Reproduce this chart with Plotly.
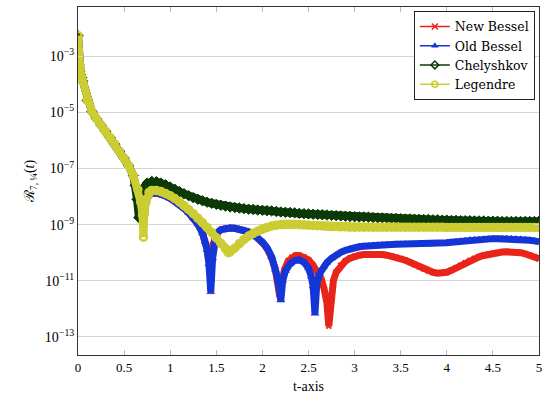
import plotly.graph_objects as go

# ---- data (values given as log10 of R) ----
t_head = [0, 0.01, 0.02, 0.03, 0.04, 0.05, 0.1, 0.15, 0.2, 0.25, 0.3, 0.35, 0.4, 0.45, 0.5, 0.55, 0.6]
lg_head = [-2.26, -3.30, -3.53, -3.66, -3.76, -3.87, -4.57, -4.96, -5.22, -5.45, -5.67, -5.9, -6.13, -6.38, -6.63, -6.9, -7.25]

t_tail = [3.05, 3.1, 3.15, 3.2, 3.25, 3.3, 3.35, 3.4, 3.45, 3.5,
          3.55, 3.6, 3.65, 3.7, 3.75, 3.8, 3.85, 3.9, 3.95, 4.0,
          4.05, 4.1, 4.15, 4.2, 4.25, 4.3, 4.35, 4.4, 4.45, 4.5,
          4.55, 4.6, 4.65, 4.7, 4.75, 4.8, 4.85, 4.9, 4.95, 5.0]

# New Bessel
t_new_mid = [0.65, 0.68, 0.7, 0.71, 0.72, 0.74, 0.77,
             0.8, 0.85, 0.9, 0.95, 1.0, 1.05, 1.1, 1.15, 1.2, 1.25, 1.3, 1.35,
             1.38, 1.4, 1.42, 1.44, 1.46, 1.48,
             1.5, 1.55, 1.6, 1.65, 1.7, 1.75, 1.8, 1.85, 1.9, 1.95, 2.0, 2.05, 2.1,
             2.14, 2.17, 2.19, 2.21, 2.24, 2.28, 2.32, 2.36, 2.4, 2.45, 2.5, 2.55, 2.6,
             2.64, 2.67, 2.7, 2.72, 2.74, 2.77, 2.8, 2.85, 2.9, 2.95, 3.0]
lg_new_mid = [-7.8, -8.2, -8.5, -8.8, -8.5, -8.15, -7.95,
              -7.88, -7.87, -7.91, -7.98, -8.06, -8.16, -8.28, -8.42, -8.58, -8.76, -8.98, -9.3,
              -9.6, -9.85, -10.3, -10.0, -9.75, -9.5,
              -9.32, -9.18, -9.13, -9.12, -9.13, -9.16, -9.2, -9.26, -9.35, -9.48, -9.64, -9.85, -10.18,
              -10.6, -11.05, -11.6, -11.05, -10.6, -10.3, -10.16, -10.1, -10.1, -10.15, -10.26, -10.45, -10.7,
              -10.95, -11.3, -11.8, -12.62, -11.6, -11.0, -10.7, -10.45, -10.3, -10.2, -10.13]
lg_new_tail = [-10.09, -10.07, -10.06, -10.06, -10.06, -10.07, -10.09, -10.12, -10.16, -10.21,
               -10.27, -10.34, -10.42, -10.5, -10.58, -10.65, -10.7, -10.73, -10.73, -10.7,
               -10.63, -10.54, -10.45, -10.36, -10.28, -10.21, -10.15, -10.1, -10.06, -10.03,
               -10.0, -9.98, -9.97, -9.97, -9.98, -10.0, -10.04, -10.09, -10.15, -10.22]

# Old Bessel
t_old_mid = [0.65, 0.68, 0.7, 0.71, 0.72, 0.74, 0.77,
             0.8, 0.85, 0.9, 0.95, 1.0, 1.05, 1.1, 1.15, 1.2, 1.25, 1.3, 1.35,
             1.38, 1.4, 1.42, 1.44, 1.46, 1.48,
             1.5, 1.55, 1.6, 1.65, 1.7, 1.75, 1.8, 1.85, 1.9, 1.95, 2.0, 2.05, 2.1,
             2.14, 2.17, 2.2, 2.22, 2.25, 2.3, 2.35, 2.4, 2.45, 2.5, 2.53, 2.55, 2.57,
             2.59, 2.62, 2.66, 2.7, 2.75, 2.8, 2.85, 2.9, 2.95, 3.0]
lg_old_mid = [-7.8, -8.2, -8.5, -8.9, -8.5, -8.15, -7.95,
              -7.88, -7.87, -7.91, -7.98, -8.06, -8.16, -8.28, -8.42, -8.58, -8.76, -8.98, -9.3,
              -9.6, -9.9, -10.4, -11.4, -10.2, -9.6,
              -9.32, -9.18, -9.13, -9.12, -9.13, -9.16, -9.2, -9.26, -9.34, -9.46, -9.62, -9.82, -10.15,
              -10.6, -11.0, -11.7, -11.0, -10.65, -10.4, -10.28, -10.26, -10.34, -10.55, -10.85, -11.2, -12.17,
              -11.1, -10.75, -10.5, -10.35, -10.2, -10.08, -9.99, -9.92, -9.86, -9.82]
lg_old_tail = [-9.79, -9.77, -9.75, -9.74, -9.73, -9.72, -9.71, -9.71, -9.7, -9.7,
               -9.7, -9.7, -9.7, -9.7, -9.7, -9.7, -9.69, -9.68, -9.67, -9.65,
               -9.63, -9.61, -9.59, -9.57, -9.55, -9.54, -9.53, -9.52, -9.51, -9.5,
               -9.5, -9.5, -9.5, -9.5, -9.51, -9.52, -9.54, -9.56, -9.58, -9.61]

# Chelyshkov
t_che_mid = [0.62, 0.64, 0.66, 0.68, 0.7, 0.72, 0.75,
             0.8, 0.85, 0.9, 0.95, 1.0, 1.05, 1.1, 1.15, 1.2, 1.25, 1.3, 1.35, 1.4, 1.45,
             1.5, 1.55, 1.6, 1.65, 1.7, 1.75, 1.8, 1.85, 1.9, 1.95, 2.0, 2.05, 2.1, 2.15,
             2.2, 2.25, 2.3, 2.35, 2.4, 2.45, 2.5, 2.55, 2.6, 2.65, 2.7, 2.75, 2.8, 2.85,
             2.9, 2.95, 3.0]
lg_che_mid = [-7.6, -8.1, -8.75, -8.25, -7.88, -7.66, -7.52,
              -7.46, -7.47, -7.52, -7.58, -7.66, -7.74, -7.82, -7.9, -7.97, -8.04, -8.1, -8.15, -8.2, -8.24,
              -8.28, -8.31, -8.34, -8.37, -8.39, -8.41, -8.43, -8.45, -8.46, -8.48, -8.49, -8.5, -8.51, -8.53,
              -8.55, -8.56, -8.57, -8.58, -8.6, -8.61, -8.62, -8.63, -8.64, -8.65, -8.66, -8.67, -8.68, -8.69,
              -8.7, -8.71, -8.72]
lg_che_tail = [-8.73, -8.73, -8.74, -8.75, -8.76, -8.76, -8.77, -8.78, -8.78, -8.79,
               -8.8, -8.8, -8.81, -8.81, -8.82, -8.82, -8.83, -8.83, -8.84, -8.84,
               -8.85, -8.85, -8.86, -8.86, -8.86, -8.87, -8.87, -8.87, -8.88, -8.88,
               -8.88, -8.89, -8.89, -8.89, -8.89, -8.89, -8.89, -8.89, -8.89, -8.88]

# Legendre
t_leg_mid = [0.65, 0.68, 0.7, 0.71, 0.72, 0.74, 0.77,
             0.8, 0.85, 0.9, 0.95, 1.0, 1.05, 1.1, 1.15, 1.2, 1.25, 1.3, 1.35, 1.4, 1.45, 1.5, 1.55, 1.6,
             1.63,
             1.65, 1.7, 1.75, 1.8, 1.85, 1.9, 1.95, 2.0, 2.05, 2.1, 2.15, 2.2, 2.25, 2.3, 2.35, 2.4,
             2.45, 2.5, 2.55, 2.6, 2.65, 2.7, 2.75, 2.8, 2.85, 2.9, 2.95, 3.0]
lg_leg_mid = [-7.75, -8.2, -8.65, -9.45, -8.6, -8.1, -7.85,
              -7.78, -7.78, -7.82, -7.89, -7.97, -8.07, -8.19, -8.32, -8.46, -8.61, -8.77, -8.93, -9.1, -9.28, -9.47, -9.67, -9.87,
              -10.0,
              -9.97, -9.84, -9.68, -9.53, -9.41, -9.31, -9.23, -9.16, -9.1, -9.05, -9.02, -9.0, -8.99, -8.99, -8.99, -9.0,
              -9.01, -9.02, -9.03, -9.04, -9.05, -9.06, -9.07, -9.07, -9.08, -9.08, -9.09, -9.09]
lg_leg_tail = [-9.09, -9.09, -9.09, -9.09, -9.09, -9.09, -9.09, -9.09, -9.09, -9.09,
               -9.09, -9.09, -9.09, -9.09, -9.09, -9.09, -9.09, -9.09, -9.09, -9.1,
               -9.1, -9.1, -9.1, -9.1, -9.1, -9.1, -9.1, -9.1, -9.1, -9.1,
               -9.1, -9.1, -9.1, -9.1, -9.1, -9.1, -9.1, -9.1, -9.1, -9.1]

y_tick_exp = [-3, -5, -7, -9, -11, -13]
x_ticks = [0, 0.5, 1, 1.5, 2, 2.5, 3, 3.5, 4, 4.5, 5]
x_tick_text = ["0", "0.5", "1", "1.5", "2", "2.5", "3", "3.5", "4", "4.5", "5"]

RED, BLUE, GREEN, YELLOW = "#e8251b", "#1536d6", "#0b3a06", "#cccc33"

series = [
    ("New Bessel", t_new_mid, lg_new_mid, lg_new_tail, RED, 7,
     dict(symbol="x-thin", size=5, line=dict(width=2, color=RED)),
     dict(symbol="x-thin", size=6, line=dict(width=1.5, color=RED))),
    ("Old Bessel", t_old_mid, lg_old_mid, lg_old_tail, BLUE, 7,
     dict(symbol="triangle-up", size=7, color=BLUE, line=dict(width=0.5, color=BLUE)),
     dict(symbol="triangle-up", size=6, color=BLUE, line=dict(width=0.5, color=BLUE))),
    ("Chelyshkov", t_che_mid, lg_che_mid, lg_che_tail, GREEN, 8,
     dict(symbol="diamond", size=8, color=GREEN, line=dict(width=1, color=GREEN)),
     dict(symbol="diamond-open", size=6, color=GREEN, line=dict(width=1.5, color=GREEN))),
    ("Legendre", t_leg_mid, lg_leg_mid, lg_leg_tail, YELLOW, 8,
     dict(symbol="circle-open", size=7, color=YELLOW, line=dict(width=2.5, color=YELLOW)),
     dict(symbol="circle-open", size=6, color=YELLOW, line=dict(width=1.5, color=YELLOW))),
]

FONT = "Liberation Serif, DejaVu Serif, serif"
LEG_FONT = "DejaVu Serif, serif"

fig = go.Figure()
for name, tm, lm, lt, col, lw, mk, lmk in series:
    tt = t_head + tm + t_tail
    ll = lg_head + lm + lt
    fig.add_trace(go.Scatter(
        x=tt, y=[10 ** v for v in ll], name=name, mode="lines+markers",
        line=dict(color=col, width=lw), marker=mk, showlegend=False))
for name, tm, lm, lt, col, lw, mk, lmk in series:
    # legend entry (thin line + small marker, as in the reference legend)
    fig.add_trace(go.Scatter(
        x=[None], y=[None], name=name, mode="lines+markers",
        line=dict(color=col, width=1.5), marker=lmk, showlegend=True))

fig.update_layout(
    width=550, height=399,
    margin=dict(l=78, r=11, t=7, b=44),
    paper_bgcolor="white", plot_bgcolor="white",
    font=dict(family=FONT, size=13, color="black"),
    showlegend=True,
    legend=dict(x=0.991, y=0.989, xanchor="right", yanchor="top",
                bgcolor="white", bordercolor="#222222", borderwidth=1,
                font=dict(family=LEG_FONT, size=12.5), itemwidth=30,
                tracegroupgap=0),
)
fig.update_xaxes(
    range=[0, 5], tickvals=x_ticks, ticktext=x_tick_text,
    showgrid=False, zeroline=False,
    showline=True, linecolor="#333333", linewidth=1, mirror="ticks",
    ticks="inside", ticklen=5, tickcolor="#bbbbbb",
    tickfont=dict(family=FONT, size=13),
    title=dict(text="t-axis", font=dict(family=FONT, size=14), standoff=7),
)
fig.update_yaxes(
    type="log", range=[-13.65, -1.24],
    tickvals=[10.0 ** e for e in y_tick_exp],
    ticktext=["10<sup>\u2212%d</sup>" % (-e) for e in y_tick_exp],
    showgrid=True, gridcolor="#d4d4d4", gridwidth=1, zeroline=False,
    showline=True, linecolor="#333333", linewidth=1, mirror="ticks",
    ticks="inside", ticklen=5, tickcolor="#d4d4d4",
    tickfont=dict(family=FONT, size=14),
    title=dict(text="\u211B<sub>7, \u00BC</sub>(<i>t</i>)", font=dict(family=FONT, size=14), standoff=6),
)

fig.write_html("out.html", config={"displayModeBar": False},
               post_script="document.body.style.margin='0';")
